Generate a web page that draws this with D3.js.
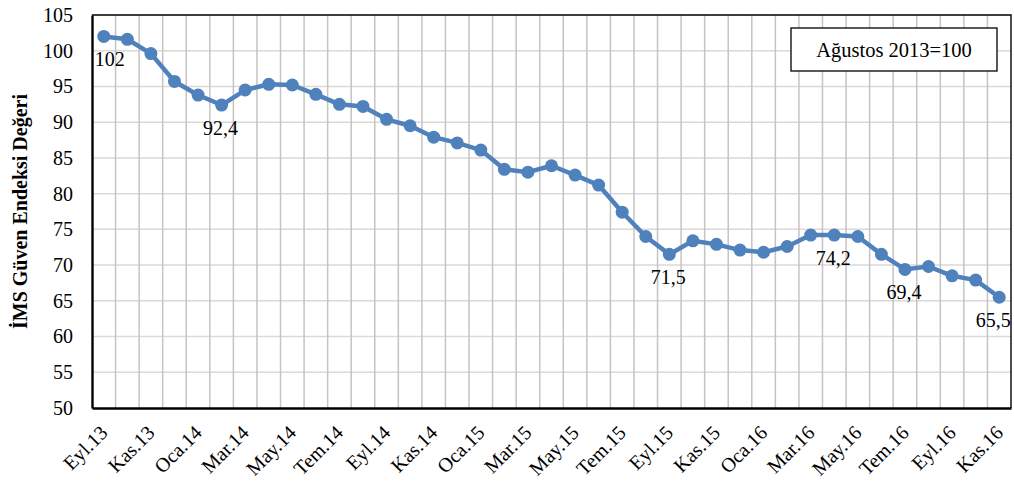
<!DOCTYPE html>
<html>
<head>
<meta charset="utf-8">
<script src="https://cdn.jsdelivr.net/npm/d3@7"></script>
<style>
  html, body { margin: 0; padding: 0; background: #fff; }
  svg { display: block; font-family: "Liberation Serif", "Times New Roman", serif; }
</style>
</head>
<body>
<svg id="chart" width="1014" height="484"></svg>
<script>
// İMS Güven Endeksi, Eyl.13 – Kas.16, monthly

const months = ["Eyl.13", "Eki.13", "Kas.13", "Ara.13", "Oca.14", "Şub.14", "Mar.14", "Nis.14",
  "May.14", "Haz.14", "Tem.14", "Ağu.14", "Eyl.14", "Eki.14", "Kas.14", "Ara.14", "Oca.15",
  "Şub.15", "Mar.15", "Nis.15", "May.15", "Haz.15", "Tem.15", "Ağu.15", "Eyl.15", "Eki.15",
  "Kas.15", "Ara.15", "Oca.16", "Şub.16", "Mar.16", "Nis.16", "May.16", "Haz.16", "Tem.16",
  "Ağu.16", "Eyl.16", "Eki.16", "Kas.16"];

const index = [102, 101.6, 99.6, 95.7, 93.8, 92.4, 94.5, 95.3, 95.2, 93.9, 92.5, 92.2,
  90.4, 89.5, 87.9, 87.1, 86.1, 83.4, 83.0, 83.9, 82.6, 81.2, 77.4, 74.0, 71.5, 73.4,
  72.9, 72.1, 71.8, 72.6, 74.2, 74.2, 74.0, 71.5, 69.4, 69.8, 68.5, 67.9, 65.5];

// points that carry a value label
const labelled = ["Eyl.13", "Şub.14", "Eyl.15", "Nis.16", "Tem.16", "Kas.16"];

const yTicks = [50, 55, 60, 65, 70, 75, 80, 85, 90, 95, 100, 105];
const xTicks = months.filter((m, i) => i % 2 === 0);
const note = "Ağustos 2013=100";
const yTitle = "İMS Güven Endeksi Değeri";

const rows = months.map((m, i) => ({ month: m, value: index[i] }));

const margin = { top: 15, right: 3, bottom: 76, left: 92 };
const W = 1014, H = 484;
const svg = d3.select("#chart");

const x = d3.scaleBand().domain(months).range([margin.left, W - margin.right]);
const y = d3.scaleLinear().domain([50, 105]).range([H - margin.bottom, margin.top]);

const mid = m => x(m) + x.bandwidth() / 2;
const cx = d => mid(d.month);

// ── grid ────────────────────────────────────────────────────────────────

svg.append("g")
  .selectAll("line")
  .data(yTicks.slice(1, -1))
  .join("line")
  .attr("x1", x.range()[0]).attr("x2", x.range()[1])
  .attr("y1", d => y(d)).attr("y2", d => y(d))
  .attr("stroke", "#d9d9d9").attr("stroke-width", 1.5);

svg.append("g")
  .selectAll("line")
  .data(months.slice(1))
  .join("line")
  .attr("x1", d => x(d)).attr("x2", d => x(d))
  .attr("y1", y(50)).attr("y2", y(105))
  .attr("stroke", "#c4c4c4").attr("stroke-width", 1.5);

// frame: thin top / right, heavier axes
svg.append("path")
  .attr("d", `M${x.range()[0]},${y(105)}H${x.range()[1]}V${y(50)}`)
  .attr("fill", "none").attr("stroke", "#000").attr("stroke-width", 1.4);

// ── axes ────────────────────────────────────────────────────────────────

const yAxis = svg.append("g")
  .attr("transform", `translate(${margin.left},0)`)
  .call(d3.axisLeft(y).tickValues(yTicks).tickSize(0).tickPadding(19));
yAxis.attr("font-family", null).attr("font-size", 20);
yAxis.select(".domain").attr("stroke", "#000").attr("stroke-width", 2.4);
yAxis.selectAll("text").attr("fill", "#000");

const xAxis = svg.append("g")
  .attr("transform", `translate(0,${y(50)})`)
  .call(d3.axisBottom(x).tickValues([]).tickSize(0));
xAxis.select(".domain").attr("stroke", "#000").attr("stroke-width", 2.4);

// rotated month labels, right end just below each band centre
svg.append("g")
  .selectAll("text")
  .data(xTicks)
  .join("text")
  .attr("transform", m => `translate(${mid(m) + 5},${y(50) + 26}) rotate(-45)`)
  .attr("text-anchor", "end")
  .attr("font-size", 20)
  .text(m => m);

svg.append("text")
  .attr("transform", `translate(27,${(y(50) + y(105)) / 2}) rotate(-90)`)
  .attr("text-anchor", "middle")
  .attr("font-size", 20).attr("font-weight", "bold")
  .text(yTitle);

// ── series ──────────────────────────────────────────────────────────────

const blue = "#4f81bd";

svg.append("path")
  .datum(rows)
  .attr("d", d3.line().x(cx).y(d => y(d.value)))
  .attr("fill", "none").attr("stroke", blue)
  .attr("stroke-width", 4.5).attr("stroke-linejoin", "round");

svg.append("g")
  .selectAll("circle")
  .data(rows)
  .join("circle")
  .attr("cx", cx).attr("cy", d => y(d.value))
  .attr("r", 6.5).attr("fill", blue);

// edge labels nudged inward like the original
const nudge = { "Eyl.13": 6, "Kas.16": -6 };
svg.append("g")
  .selectAll("text")
  .data(rows.filter(d => labelled.includes(d.month)))
  .join("text")
  .attr("x", d => cx(d) + (nudge[d.month] || -1))
  .attr("y", d => y(d.value) + 30)
  .attr("text-anchor", "middle")
  .attr("font-size", 20)
  .text(d => d3.format(".1f")(d.value).replace(".0", "").replace(".", ","));

// ── note box ────────────────────────────────────────────────────────────

svg.append("rect")
  .attr("x", 791).attr("y", 28).attr("width", 206).attr("height", 43)
  .attr("fill", "#fff").attr("stroke", "#000").attr("stroke-width", 1.3);
svg.append("text")
  .attr("x", 894).attr("y", 57)
  .attr("text-anchor", "middle").attr("font-size", 20.5)
  .text(note);
</script>
</body>
</html>
